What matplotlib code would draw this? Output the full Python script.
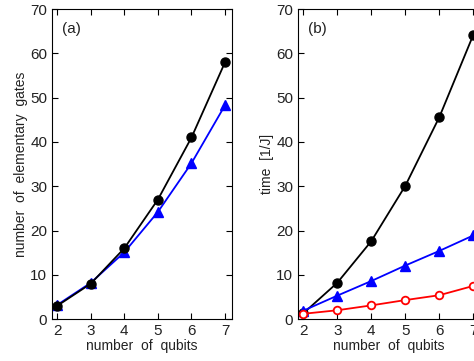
import matplotlib
matplotlib.use("Agg")
import matplotlib.pyplot as plt

plt.rcParams['font.family'] = ['Liberation Sans', 'DejaVu Sans']

qubits = [2, 3, 4, 5, 6, 7]

# (a) number of elementary gates
gates_black = [3, 8, 16, 27, 41, 58]
gates_blue = [3.2, 8.2, 15.1, 24.2, 35.2, 48.3]

# (b) time [1/J]
time_black = [1.3, 8.2, 17.6, 30.1, 45.6, 64.2]
time_blue = [1.9, 5.3, 8.6, 12.1, 15.4, 18.9]
time_red = [1.2, 2.0, 3.1, 4.3, 5.4, 7.5]

yticks = [0, 10, 20, 30, 40, 50, 60, 70]

fig = plt.figure(figsize=(4.74, 3.61), dpi=100)
ax1 = fig.add_axes([0.110, 0.116, 0.379, 0.859])
ax2 = fig.add_axes([0.629, 0.116, 0.384, 0.859])

ax1.plot(qubits, gates_blue, '-^', color='blue', markersize=7, lw=1.3)
ax1.plot(qubits, gates_black, '-o', color='black', markersize=6.5, lw=1.3)

ax2.plot(qubits, time_black, '-o', color='black', markersize=6.5, lw=1.3)
ax2.plot(qubits, time_blue, '-^', color='blue', markersize=7, lw=1.3)
ax2.plot(qubits, time_red, '-o', color='red', markerfacecolor='white',
         markeredgewidth=1.3, markersize=5.5, lw=1.3)

for ax, lab, ylab in [(ax1, '(a)', 'number  of  elementary  gates'),
                      (ax2, '(b)', 'time  [1/J]')]:
    ax.set_xlim(1.85, 7.2)
    ax.set_ylim(0, 70)
    ax.set_xticks(qubits)
    ax.set_yticks(yticks)
    ax.tick_params(direction='in', top=True, right=True, labelsize=11, length=4,
                   labelcolor='#222222')
    ax.set_xlabel('number  of  qubits', fontsize=10, labelpad=1, color='#222222')
    ax.set_ylabel(ylab, fontsize=10, labelpad=2, color='#222222')
    ax.text(0.055, 0.935, lab, transform=ax.transAxes, fontsize=11,
            ha='left', va='center', color='#222222')

fig.savefig('out.png', dpi=100)
